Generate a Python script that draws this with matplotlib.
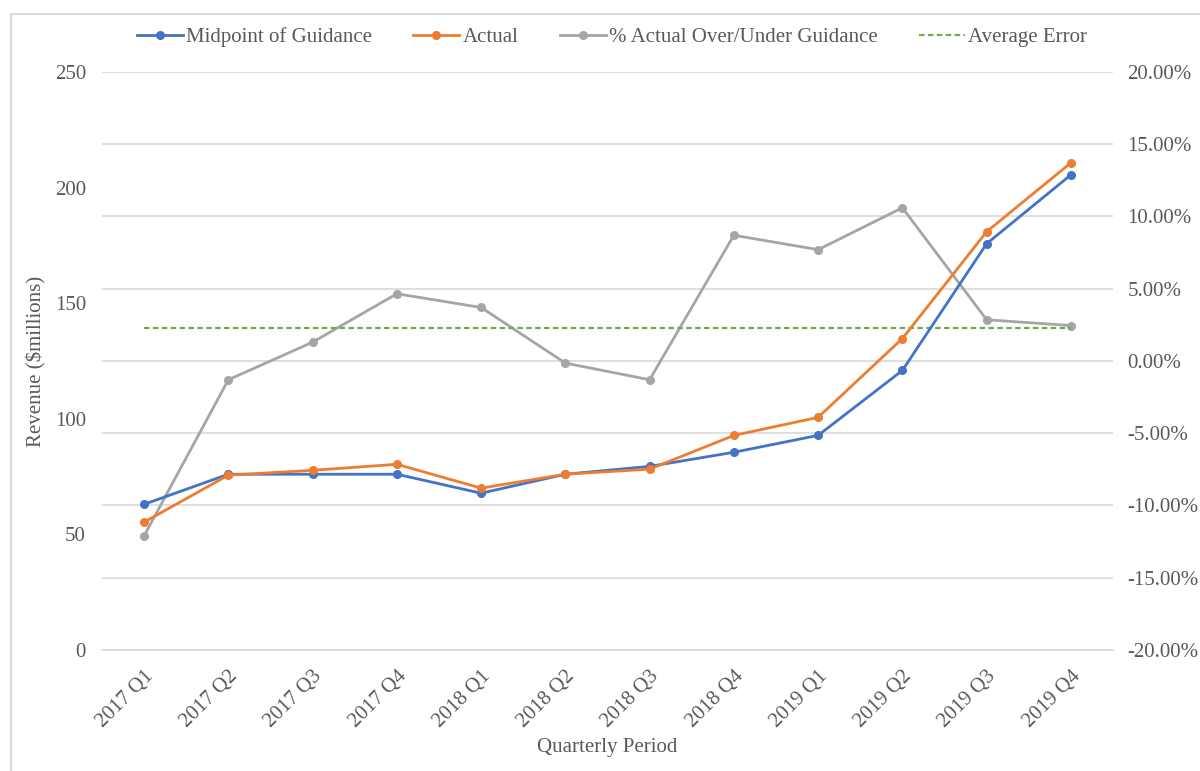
import matplotlib.pyplot as plt
from matplotlib.patches import Rectangle
from matplotlib.ticker import FuncFormatter

quarters = ["2017 Q1", "2017 Q2", "2017 Q3", "2017 Q4",
            "2018 Q1", "2018 Q2", "2018 Q3", "2018 Q4",
            "2019 Q1", "2019 Q2", "2019 Q3", "2019 Q4"]
guidance = [63.0, 76.0, 76.0, 76.0, 67.8, 76.0, 79.4, 85.5, 92.8, 120.9, 175.7, 205.5]
actual = [55.3, 75.6, 77.7, 80.3, 70.0, 76.0, 78.2, 92.8, 100.6, 134.7, 180.9, 210.7]
pct_diff = [-12.1, -1.3, 1.3, 4.65, 3.7, -0.15, -1.3, 8.7, 7.7, 10.6, 2.85, 2.45]
avg_error = 2.27

plt.rcParams.update({'font.family': ['Liberation Serif', 'DejaVu Serif'],
                     'font.size': 15, 'text.color': '#595959',
                     'axes.labelcolor': '#595959',
                     'xtick.color': '#595959', 'ytick.color': '#595959'})

blue, orange, gray, green = '#4472C4', '#ED7D31', '#A5A5A5', '#70AD47'

fig = plt.figure(figsize=(12, 7.71), dpi=100)
fig.patches.append(Rectangle((11 / 1200, -0.1), 1.2, 1.1 - 14 / 771,
                             transform=fig.transFigure, fill=False,
                             edgecolor='#D9D9D9', linewidth=1.5))

ax = fig.add_axes([0.085, 0.157, 0.8425, 0.7497])
ax2 = ax.twinx()

x = range(len(quarters))
l1, = ax.plot(x, guidance, color=blue, lw=2.0, marker='o', ms=5.5, label='Midpoint of Guidance')
l2, = ax.plot(x, actual, color=orange, lw=2.0, marker='o', ms=5.5, label='Actual')
l3, = ax2.plot(x, pct_diff, color=gray, lw=2.0, marker='o', ms=5.5,
               label='% Actual Over/Under Guidance')
l4, = ax2.plot(x, [avg_error] * len(quarters), color=green, lw=1.6,
               ls=(0, (2.5, 1.5)), label='Average Error')

ax.set_zorder(ax2.get_zorder() + 1)
ax.patch.set_visible(False)

ax.set_xlim(-0.5, len(quarters) - 0.5)
ax.set_ylim(0, 250)
ax.set_yticks(range(0, 251, 50))
ax2.set_ylim(-20, 20)
ax2.set_yticks(range(-20, 21, 5))
ax2.yaxis.set_major_formatter(FuncFormatter(lambda v, p: f"{v:.2f}%"))
ax2.grid(True, axis='y', color='#D9D9D9', lw=1.2)
ax2.set_axisbelow(True)

ax.set_xticks(list(x))
ax.set_xticklabels(quarters, rotation=45, ha='right', rotation_mode='anchor')

for a in (ax, ax2):
    for s in a.spines.values():
        s.set_visible(False)
    a.tick_params(length=0)
ax.spines['bottom'].set_visible(True)
ax.spines['bottom'].set_color('#D9D9D9')
ax.spines['bottom'].set_linewidth(1.2)
ax.tick_params(axis='x', pad=12)
ax.tick_params(axis='y', pad=11.5)
ax2.tick_params(axis='y', pad=10.5)

ax.set_xlabel("Quarterly Period", labelpad=5)
ax.set_ylabel("Revenue ($millions)", labelpad=6)

fig.legend(handles=[l1, l2, l3, l4], loc='center', bbox_to_anchor=(0.51, 0.952),
           ncol=4, frameon=False, handlelength=2.2, handletextpad=0.15,
           columnspacing=2.0, fontsize=15)

fig.savefig("out.png", dpi=100)
